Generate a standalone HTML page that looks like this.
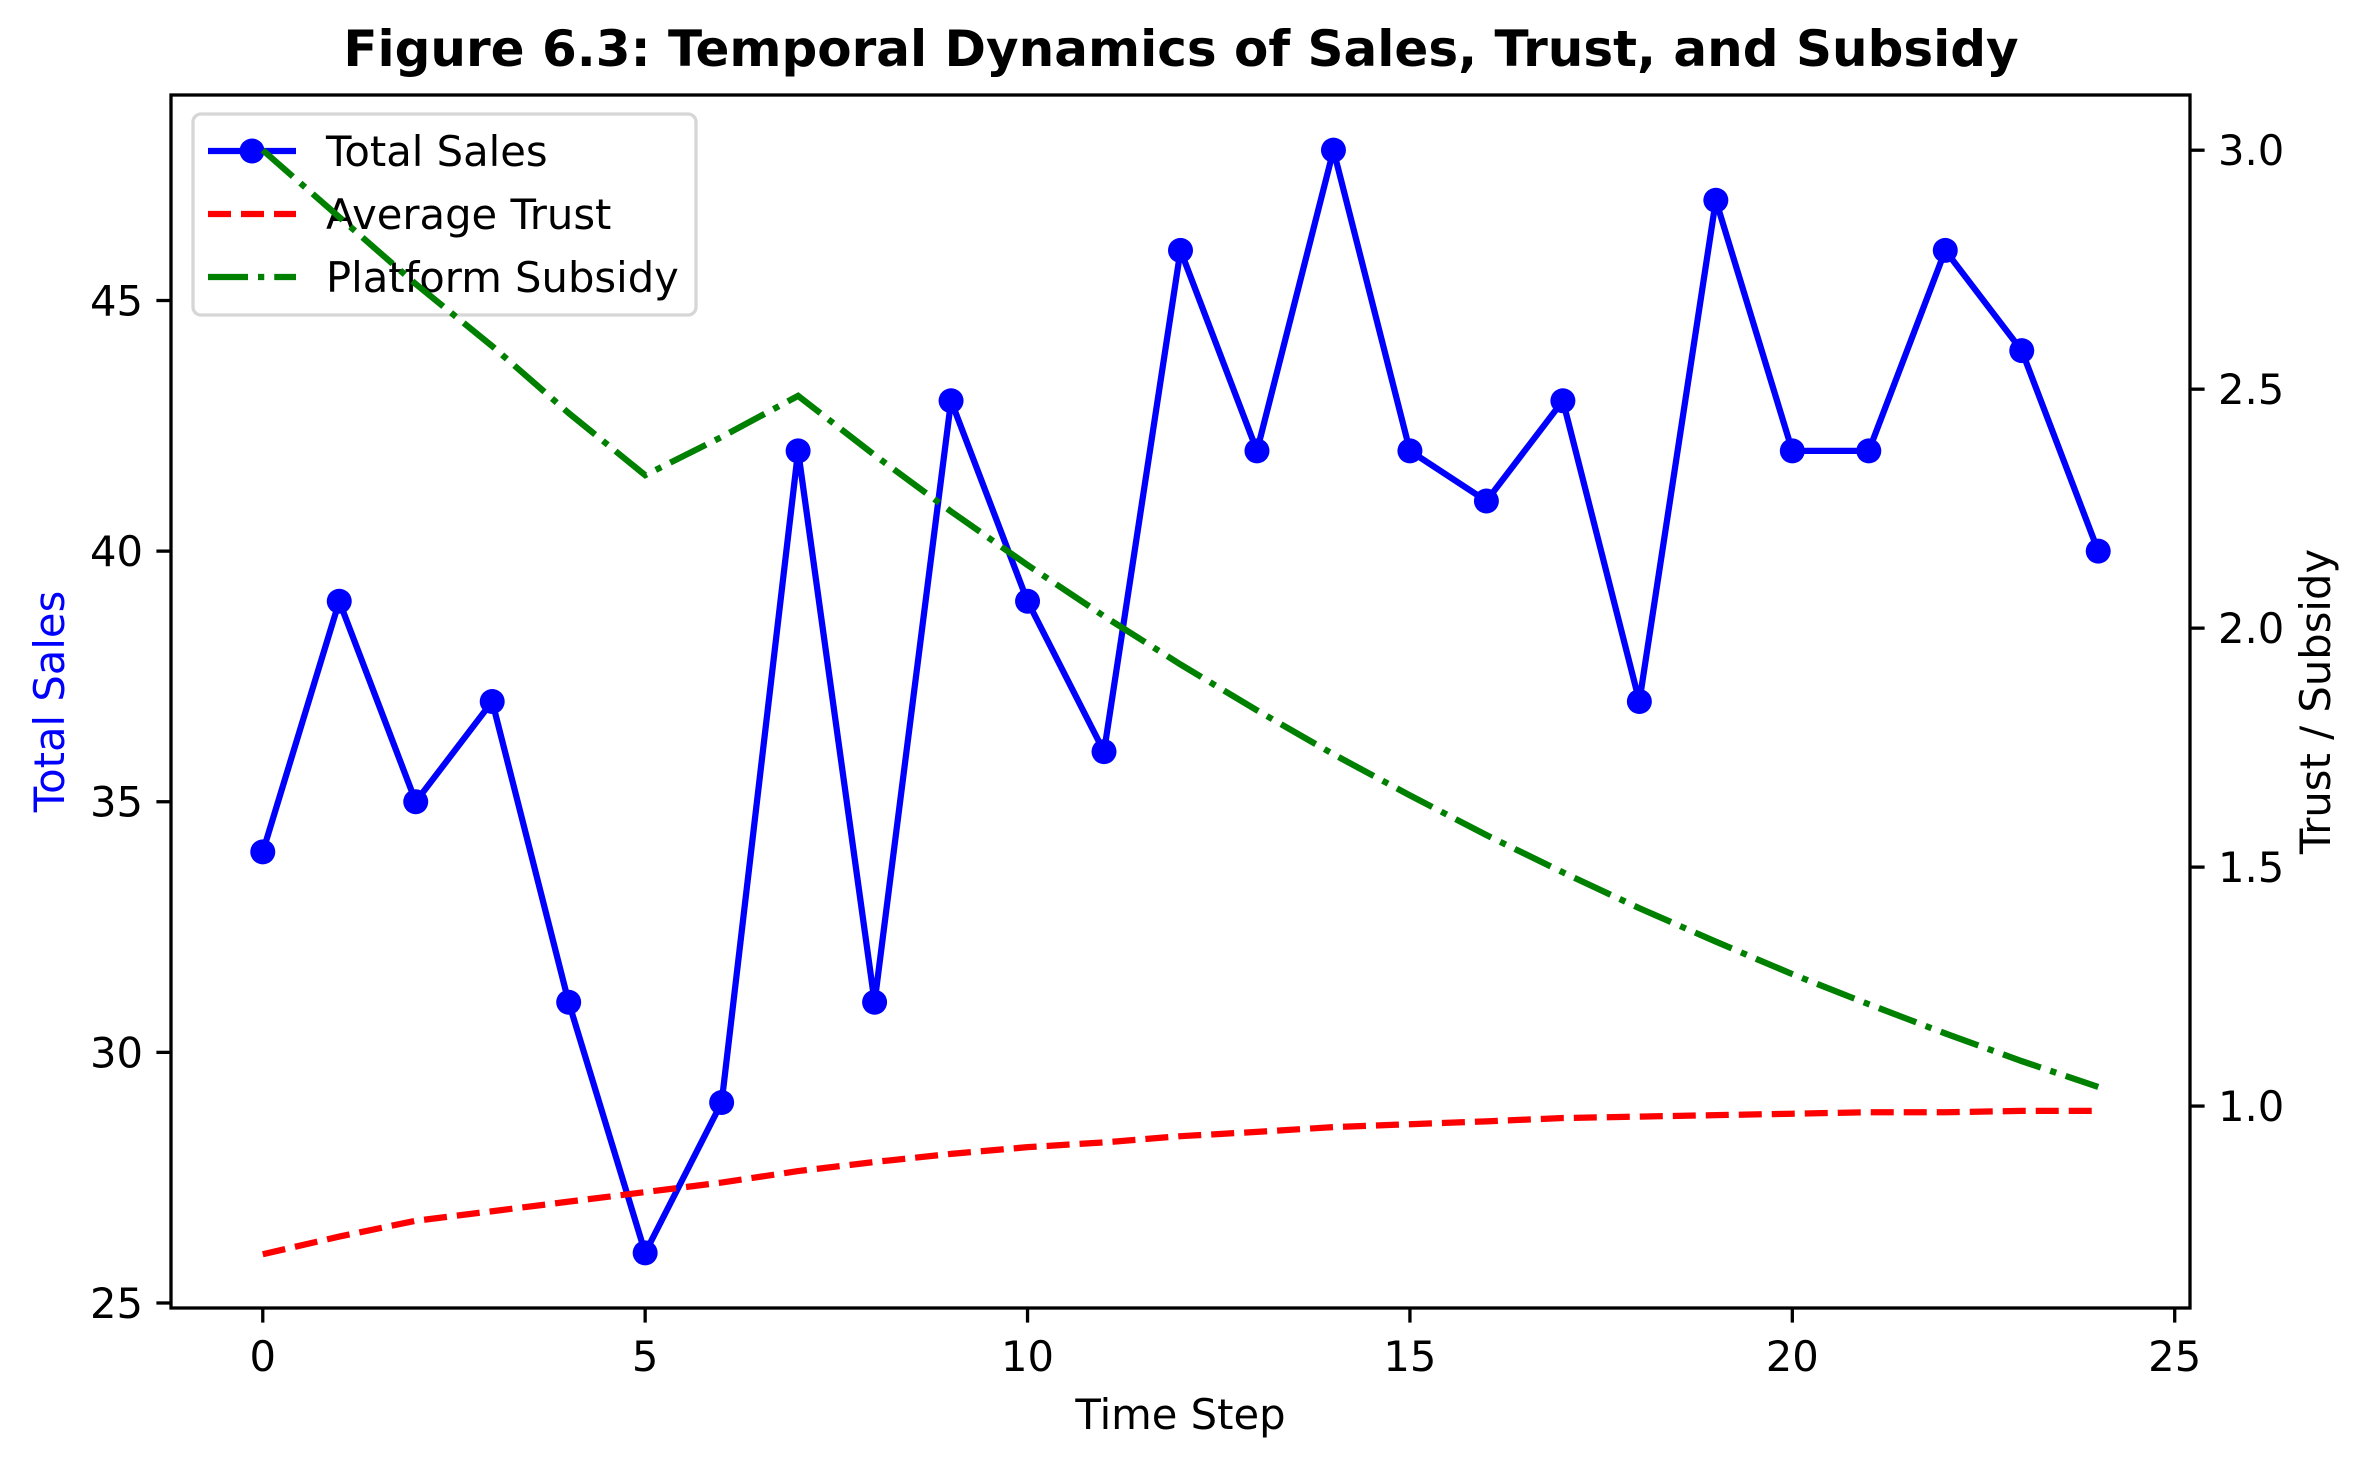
<!DOCTYPE html>
<html><head><meta charset="utf-8"><style>
body{margin:0;background:#fff}
svg text{font-family:"DejaVu Sans","Liberation Sans",sans-serif}
</style></head><body>
<svg id="chart" width="2371" height="1466" xmlns="http://www.w3.org/2000/svg">
<rect width="2371" height="1466" fill="#fff"/>
<text x="1181" y="66" font-size="50" font-weight="bold" text-anchor="middle">Figure 6.3: Temporal Dynamics of Sales, Trust, and Subsidy</text>
<g id="plot"></g>
</svg>
<script>
const steps=[0,1,2,3,4,5,6,7,8,9,10,11,12,13,14,15,16,17,18,19,20,21,22,23,24];
const sales=[34,39,35,37,31,26,29,42,31,43,39,36,46,42,48,42,41,43,37,47,42,42,46,44,40];
const trust=[0.69,0.727,0.76,0.78,0.80,0.82,0.84,0.864,0.883,0.90,0.914,0.924,0.937,0.946,0.956,0.962,0.968,0.975,0.978,0.981,0.984,0.987,0.987,0.99,0.99];
const subsidy=[3.0,2.86,2.72,2.59,2.45,2.32,2.40,2.486,2.362,2.244,2.132,2.025,1.924,1.828,1.736,1.65,1.567,1.489,1.414,1.344,1.276,1.213,1.152,1.094,1.04];
const xTicks=[0,5,10,15,20,25];
const yLeftTicks=[25,30,35,40,45];
const yRightTicks=[1.0,1.5,2.0,2.5,3.0];

const L=171,R=2190,T=95,B=1308;
const xmin=-1.2,xmax=25.2,ylmin=24.9,ylmax=49.1,yrmin=0.5775,yrmax=3.1155;
const X=v=>L+(v-xmin)/(xmax-xmin)*(R-L);
const YL=v=>B-(v-ylmin)/(ylmax-ylmin)*(B-T);
const YR=v=>B-(v-yrmin)/(yrmax-yrmin)*(B-T);
const NS='http://www.w3.org/2000/svg';
const g=document.getElementById('plot');
function mk(tag,attrs,parent){const e=document.createElementNS(NS,tag);for(const k in attrs)e.setAttribute(k,attrs[k]);(parent||g).appendChild(e);return e;}
function pts(ys,f){return steps.map((s,i)=>X(s)+','+f(ys[i])).join(' ');}
const LW=6.25, DASH='23 10', DASHDOT='40 10 6.25 10';

let e;
e=mk('polyline',{points:pts(sales,YL),fill:'none',stroke:'#0000ff','stroke-width':LW,'stroke-linejoin':'round'});


steps.forEach((s,i)=>{
  const c=mk('circle',{cx:X(s),cy:YL(sales[i]),r:12.5,fill:'#0000ff'});
  
  
});

const lg=mk('g',{});


mk('rect',{x:193,y:114,width:503,height:201,rx:8,fill:'rgba(255,255,255,0.8)',stroke:'#d6d6d6','stroke-width':3.3},lg);
const ent=[['Total Sales','#0000ff','none'],['Average Trust','#ff0000',DASH],['Platform Subsidy','#008000',DASHDOT]];
ent.forEach((en,i)=>{
  const y=151+i*63;
  const eg=mk('g',{},lg);
  
  
  mk('line',{x1:208,x2:296,y1:y,y2:y,stroke:en[1],'stroke-width':LW,'stroke-dasharray':en[2]},eg);
  if(i===0) mk('circle',{cx:252,cy:y,r:12.5,fill:en[1]},eg);
  const t=mk('text',{x:326,y:y+15,'font-size':41.7},eg);t.textContent=en[0];
});

e=mk('polyline',{points:pts(trust,YR),fill:'none',stroke:'#ff0000','stroke-width':LW,'stroke-dasharray':DASH});


e=mk('polyline',{points:pts(subsidy,YR),fill:'none',stroke:'#008000','stroke-width':LW,'stroke-dasharray':DASHDOT});



e=mk('rect',{x:L,y:T,width:R-L,height:B-T,fill:'none',stroke:'#000','stroke-width':3.3});



xTicks.forEach(v=>{
  mk('line',{x1:X(v),x2:X(v),y1:B,y2:B+14.6,stroke:'#000','stroke-width':3.3});
  const t=mk('text',{x:X(v),y:B+63,'font-size':41.7,'text-anchor':'middle'});t.textContent=v;
  
  
});
yLeftTicks.forEach(v=>{
  mk('line',{x1:L-14.6,x2:L,y1:YL(v),y2:YL(v),stroke:'#000','stroke-width':3.3});
  const t=mk('text',{x:L-28,y:YL(v)+15,'font-size':41.7,'text-anchor':'end'});t.textContent=v;
  
  
});
yRightTicks.forEach(v=>{
  mk('line',{x1:R,x2:R+14.6,y1:YR(v),y2:YR(v),stroke:'#000','stroke-width':3.3});
  const t=mk('text',{x:R+28,y:YR(v)+15,'font-size':41.7,'text-anchor':'start'});t.textContent=v.toFixed(1);
  
  
});

e=mk('text',{x:(L+R)/2,y:1429,'font-size':41.7,'text-anchor':'middle'});e.textContent='Time Step';


e=mk('text',{x:0,y:0,'font-size':41.7,'text-anchor':'middle',fill:'#0000ff',transform:`translate(64,${(T+B)/2}) rotate(-90)`});e.textContent='Total Sales';


e=mk('text',{x:0,y:0,'font-size':41.7,'text-anchor':'middle',transform:`translate(2330,${(T+B)/2}) rotate(-90)`});e.textContent='Trust / Subsidy';


</script>
</body></html>
